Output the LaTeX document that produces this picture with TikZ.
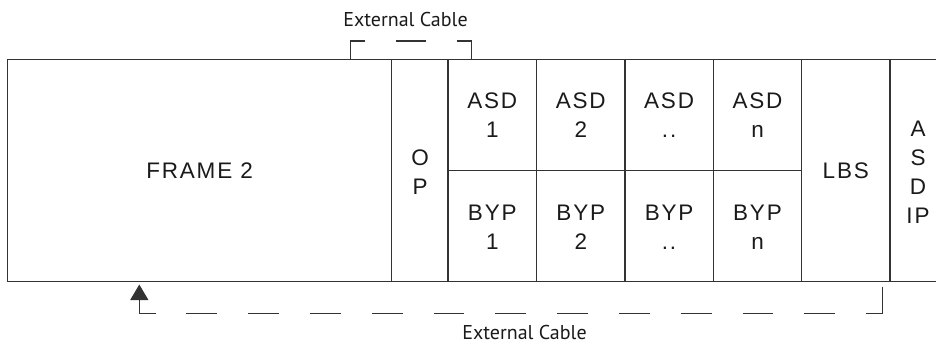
\documentclass[tikz,border=0pt]{standalone}
\usepackage{fontspec}
\usetikzlibrary{arrows.meta}
\newfontfamily\boxfont[LetterSpace=8]{Liberation Sans}
\newfontfamily\cablefont{PT Sans}
\definecolor{linec}{HTML}{333333}
\definecolor{textc}{HTML}{1A1A1A}
\tikzset{
  grid line/.style={draw=linec, line width=1.1pt},
  cable/.style={draw=linec, line width=1.1pt},
  celltext/.style={font=\boxfont\fontsize{22.5}{29}\selectfont, text=textc, align=center, inner sep=0pt},
  cablelabel/.style={font=\cablefont\fontsize{20}{24}\selectfont, text=textc, inner sep=0pt},
}
\begin{document}
\begin{tikzpicture}[x=1pt,y=-1pt]
\useasboundingbox (0,0) rectangle (936,348);
% frame
\draw[grid line] (950,59.3) -- (7.5,59.3) -- (7.5,281.7) -- (950,281.7);
\foreach \xx in {391.7,448,536.6,625,713.2,801.7,890} {
  \draw[grid line] (\xx,59.3) -- (\xx,281.7);
}
\draw[grid line] (448,170.5) -- (801.7,170.5);
% texts
\node[celltext] (frame) at (199.6,170.5) {FRAME 2};
\node[celltext] (op) at (420.2,172) {O\\P};
\node[celltext] (asd1) at (492.3,115.5) {ASD\\1};
\node[celltext] (asd2) at (580.8,115.5) {ASD\\2};
\node[celltext] (asdd) at (669.1,115.5) {ASD\\..};
\node[celltext] (asdn) at (757.5,115.5) {ASD\\n};
\node[celltext] (byp1) at (492.3,227) {BYP\\1};
\node[celltext] (byp2) at (580.8,227) {BYP\\2};
\node[celltext] (bypd) at (669.1,227) {BYP\\..};
\node[celltext] (bypn) at (757.5,227) {BYP\\n};
\node[celltext] (lbs) at (845.8,170.5) {LBS};
\node[celltext] (asdip) at (918,172) {A\\S\\D\\IP};
% top external cable
\node[cablelabel] (toplabel) at (405.5,19.7) {External Cable};
\coordinate (ta) at (350.7,59.3);
\coordinate (tb) at (350.7,41);
\coordinate (tc) at (365,41);
\coordinate (td) at (396,41);
\coordinate (te) at (426,41);
\coordinate (tf) at (456.7,41);
\coordinate (tg) at (471.7,41);
\coordinate (th) at (471.7,59.3);
\draw[cable] (ta) -- (tb) -- (tc);
\draw[cable] (td) -- (te);
\draw[cable] (tf) -- (tg) -- (th);
% bottom external cable
\node[cablelabel] (botlabel) at (524.5,332) {External Cable};
\coordinate (ba) at (882.7,286.7);
\coordinate (bb) at (882.7,313.3);
\coordinate (bc) at (866.7,313.3);
\coordinate (bd) at (155.5,313.3);
\coordinate (be) at (139.3,313.3);
\coordinate (bf) at (139.3,284.5);
\draw[cable] (ba) -- (bb) -- (bc);
\draw[cable, dash pattern=on 30.8pt off 31pt, dash phase=31pt] (bd) -- (bc);
\draw[cable, -{Triangle[width=18pt,length=15.5pt]}] (bd) -- (be) -- (bf);
\end{tikzpicture}
\end{document}
